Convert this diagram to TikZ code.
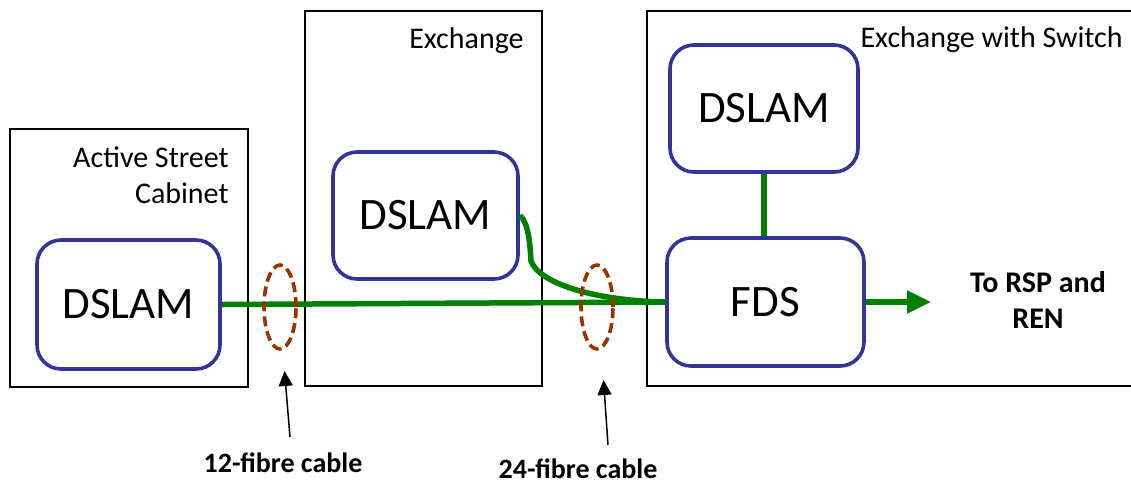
\documentclass[tikz,border=0pt]{standalone}
\usepackage{fontspec}
\setmainfont{Carlito}
\usepackage{xcolor}
\usetikzlibrary{arrows.meta,positioning,shapes.geometric}
\definecolor{dslamblue}{RGB}{51,51,153}
\definecolor{fibregreen}{RGB}{0,128,0}
\definecolor{bundlebrown}{RGB}{153,51,0}

\begin{document}
\begin{tikzpicture}[x=1pt, y=-1pt,
  site/.style={draw, line width=1.6pt, inner sep=0pt},
  sitename/.style={font=\fontsize{30}{36}\selectfont, align=right, inner sep=0pt, anchor=north east},
  dslam/.style={draw=dslamblue, line width=3.6pt, rounded corners=24pt, inner sep=0pt,
    font=\fontsize{45}{52}\selectfont},
  cable/.style={draw=fibregreen, line width=5.5pt},
  bundle/.style={ellipse, draw=bundlebrown, line width=3.6pt, dash pattern=on 10pt off 5pt,
    minimum width=32pt, minimum height=84pt, inner sep=0pt},
  pointer/.style={-{Triangle[length=15pt,width=14pt]}, line width=1.5pt},
  caption/.style={font=\fontsize{28}{36}\selectfont\bfseries, align=center, inner sep=0pt}]
  \useasboundingbox (0,0) rectangle (1131,483);

  % Sites
  \node[site, minimum width=238pt, minimum height=258pt] (cab) at (129,258) {};
  \node[site, minimum width=237pt, minimum height=375pt] (exch) at (423.5,198.5) {};
  \node[site, minimum width=494pt, minimum height=375pt] (swx) at (894,198.5) {};
  \node[sitename] (cabname) at ([shift={(-20,18)}]cab.north east) {Active Street\\Cabinet};
  \node[sitename] (exchname) at ([shift={(-19,17)}]exch.north east) {Exchange};
  \node[sitename] (swxname) at ([shift={(-19,16)}]swx.north east) {Exchange with Switch};

  % DSLAMs and switch
  \node[dslam, minimum width=183pt, minimum height=129pt] (dslamA) at (128.5,304.5) {DSLAM};
  \node[dslam, minimum width=185pt, minimum height=127pt] (dslamB) at (425.5,215.5) {DSLAM};
  \node[dslam, minimum width=188pt, minimum height=127pt] (dslamC) at (764,108.5) {DSLAM};
  \node[dslam, minimum width=197pt, minimum height=128pt] (fds) at (765.5,302) {FDS};

  % Fibre
  \coordinate (outend) at (931,302);
  \draw[cable] (dslamA.east) -- (fds.west);
  \draw[cable] (dslamB.east) .. controls (528,222) and (530,242) .. (531,261)
    .. controls (540,285) and (600,301) .. (fds.west);
  \draw[cable] (dslamC.south) -- (dslamC.south |- fds.north);
  \draw[cable, -{Triangle[length=24pt,width=22pt]}] (fds.east) -- (outend);
  \node[caption, font=\fontsize{30}{36}\selectfont\bfseries, anchor=base] (toren) at (1038,328) {To RSP and\\REN};

  % Cable bundles
  \node[bundle] (ring12) at (280,307) {};
  \node[bundle] (ring24) at (597,307) {};
  \coordinate (tip12) at (284.5,371);
  \coordinate (tail12) at (290,437);
  \coordinate (tip24) at (603.5,380);
  \coordinate (tail24) at (608,445);
  \draw[pointer] (tail12) -- (tip12);
  \draw[pointer] (tail24) -- (tip24);
  \node[caption, anchor=base] (cap12) at (283,472) {12-fibre cable};
  \node[caption, anchor=base] (cap24) at (578,478) {24-fibre cable};
\end{tikzpicture}
\end{document}
